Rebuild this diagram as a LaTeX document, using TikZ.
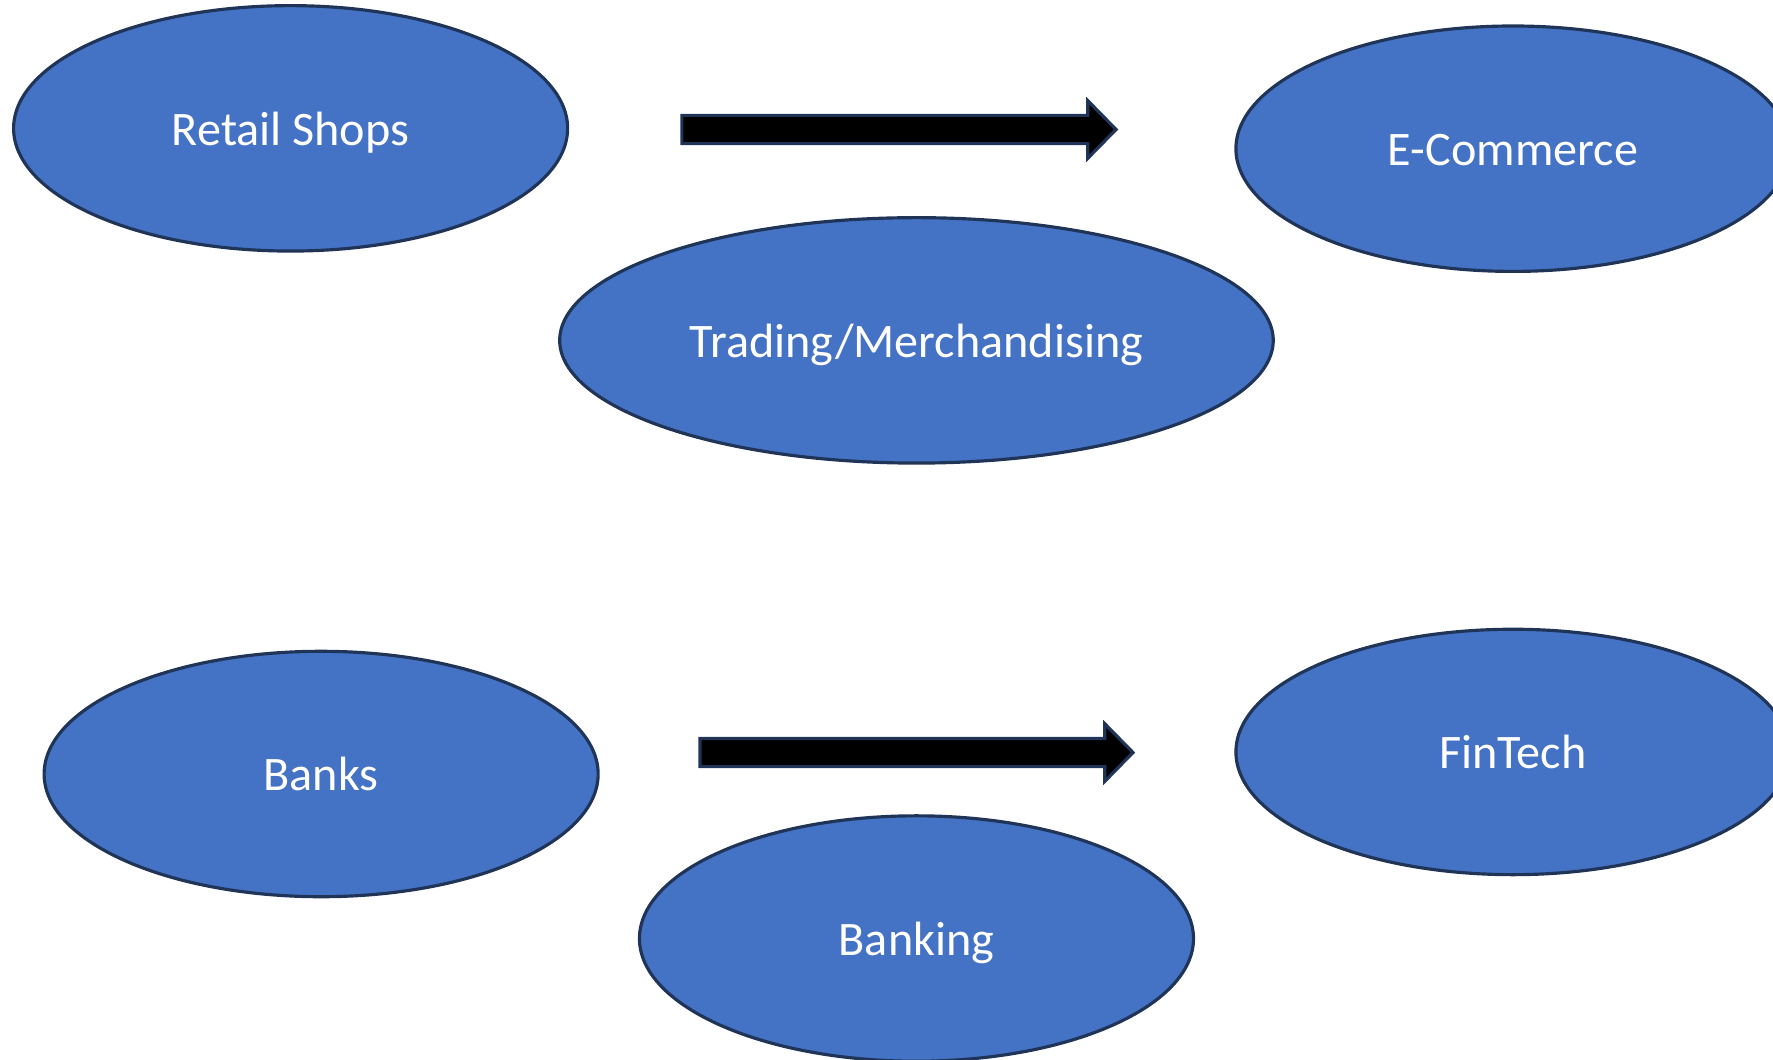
\documentclass[tikz,border=0pt]{standalone}
\usepackage{fontspec}
\setmainfont{Carlito}
\usetikzlibrary{shapes.geometric}
\usetikzlibrary{calc}
\definecolor{bleu}{HTML}{4472C4}
\definecolor{contour}{HTML}{203458}
\newcommand{\BlockArrow}[2]{%
    % fleche pleine de #1 vers #2
    \filldraw[black,draw=contour,line width=0.9pt]
        ($(#1)+(0,-12.5)$) -- ($(#2)+(-25,-12.5)$) -- ($(#2)+(-25,-25.5)$)
        -- (#2) -- ($(#2)+(-25,25.5)$) -- ($(#2)+(-25,12.5)$)
        -- ($(#1)+(0,12.5)$) -- cycle ;
}
\begin{document}
\begin{tikzpicture}[x=0.011307cm,y=-0.011307cm,
    bulle/.style={ellipse,fill=bleu,draw=contour,line width=0.9pt,inner sep=0pt,
        minimum width=5.54cm,minimum height=2.454cm,text=white,
        text height=12pt,text depth=2.5pt,
        font=\fontsize{13.7}{16}\selectfont}]
\useasboundingbox (0,0) rectangle (1568,937);
\clip (0,0) rectangle (1568,937);%pour couper les ellipses a droite

\node[bulle] (retail) at (257,113.5) {Retail Shops};
\node[bulle] (ecommerce) at (1338,131.5) {E-Commerce};
\node[bulle,minimum width=7.135cm] (trading) at (810.5,301) {Trading/Merchandising};

\node[bulle] (banks) at (284,684.5) {Banks};
\node[bulle] (fintech) at (1338,665) {FinTech};
\node[bulle] (banking) at (810.5,830) {Banking};

\coordinate (a1) at (603,114.5);
\coordinate (b1) at (987,114.5);
\coordinate (a2) at (619,665.5);
\coordinate (b2) at (1002,665.5);
\BlockArrow{a1}{b1}
\BlockArrow{a2}{b2}

\end{tikzpicture}
\end{document}
